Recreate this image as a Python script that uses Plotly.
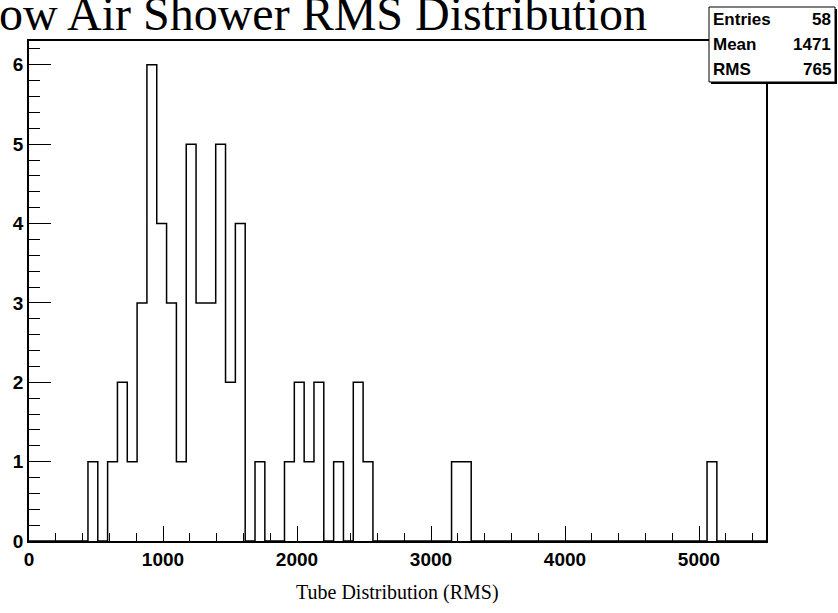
import plotly.graph_objects as go

# Histogram binning and contents
x_min, x_max, n_bins = 0.0, 5500.0, 75
counts = [0, 0, 0, 0, 0, 0, 1, 0, 1, 2,
          1, 3, 6, 4, 3, 1, 5, 3, 3, 5,
          2, 4, 0, 1, 0, 0, 1, 2, 1, 2,
          0, 1, 0, 2, 1, 0, 0, 0, 0, 0,
          0, 0, 0, 1, 1, 0, 0, 0, 0, 0,
          0, 0, 0, 0, 0, 0, 0, 0, 0, 0,
          0, 0, 0, 0, 0, 0, 0, 0, 0, 1,
          0, 0, 0, 0, 0]

# Statistics box entries
stat_names = ["Entries", "Mean", "RMS"]
stat_values = ["58", "1471", "765"]

title_text = "ow Air Shower RMS Distribution"
x_title = "Tube Distribution (RMS)"
y_max = 6.3

W, H = 838, 613
L, R, T, B = 29, 766, 41, 541

bw = (x_max - x_min) / n_bins
edges = [x_min + i * bw for i in range(n_bins + 1)]
ys = list(counts) + [counts[-1]]


def px(x):
    return (x - L) / (R - L)


def py(y):
    return (B - y) / (B - T)


fig = go.Figure()
fig.add_trace(go.Scatter(
    x=edges, y=ys, mode="lines", line_shape="hv",
    line=dict(color="black", width=1.5), hoverinfo="skip", showlegend=False,
))

tick_font = dict(family="Liberation Sans", size=19, color="black", weight="bold")

fig.update_xaxes(
    range=[x_min, x_max], tickmode="linear", tick0=0, dtick=1000,
    ticks="inside", ticklen=15, tickwidth=1, tickcolor="black",
    minor=dict(ticks="inside", ticklen=8, dtick=200, tick0=0, tickcolor="black", tickwidth=1),
    showline=True, mirror=True, linecolor="black", linewidth=1.5,
    showgrid=False, zeroline=False, tickfont=tick_font,
)
fig.update_yaxes(
    range=[0, y_max], tickmode="linear", tick0=0, dtick=1,
    ticks="inside", ticklen=22, tickwidth=1, tickcolor="black",
    minor=dict(ticks="inside", ticklen=11, dtick=0.2, tick0=0, tickcolor="black", tickwidth=1),
    showline=True, mirror=True, linecolor="black", linewidth=1.5,
    showgrid=False, zeroline=False, tickfont=tick_font,
)

# Statistics box with a drop shadow
bx0, bx1, by0, by1 = 709, 835, 7, 82
fig.add_shape(type="rect", xref="paper", yref="paper",
              x0=px(bx0 + 2), x1=px(bx1 + 2), y0=py(by1 + 2), y1=py(by0 + 2),
              line=dict(width=0), fillcolor="black", layer="above")
fig.add_shape(type="rect", xref="paper", yref="paper",
              x0=px(bx0), x1=px(bx1), y0=py(by1), y1=py(by0),
              line=dict(color="black", width=1), fillcolor="white", layer="above")

row_h = (by1 - by0) / len(stat_names)
for i, (name, val) in enumerate(zip(stat_names, stat_values)):
    yc = by0 + row_h * (i + 0.5)
    fig.add_annotation(xref="paper", yref="paper", x=px(bx0 + 2), y=py(yc),
                       text=name, showarrow=False, xanchor="left", yanchor="middle",
                       font=dict(family="Liberation Sans", size=17, color="black", weight="bold"))
    fig.add_annotation(xref="paper", yref="paper", x=px(bx1 - 2), y=py(yc),
                       text=val, showarrow=False, xanchor="right", yanchor="middle",
                       font=dict(family="Liberation Sans", size=17, color="black", weight="bold"))

# Title (runs off the top-left of the canvas)
fig.add_annotation(xref="paper", yref="paper", x=px(-3), y=py(14),
                   text=title_text, showarrow=False, xanchor="left", yanchor="middle",
                   font=dict(family="Liberation Serif", size=48, color="black"))

# X axis title
fig.add_annotation(xref="paper", yref="paper", x=0.5, y=py(592),
                   text=x_title, showarrow=False, xanchor="center", yanchor="middle",
                   font=dict(family="Liberation Serif", size=20, color="black"))

fig.update_layout(
    width=W, height=H,
    margin=dict(l=L, r=W - R, t=T, b=H - B),
    paper_bgcolor="white", plot_bgcolor="white",
    showlegend=False,
)

fig.write_html("out.html")
